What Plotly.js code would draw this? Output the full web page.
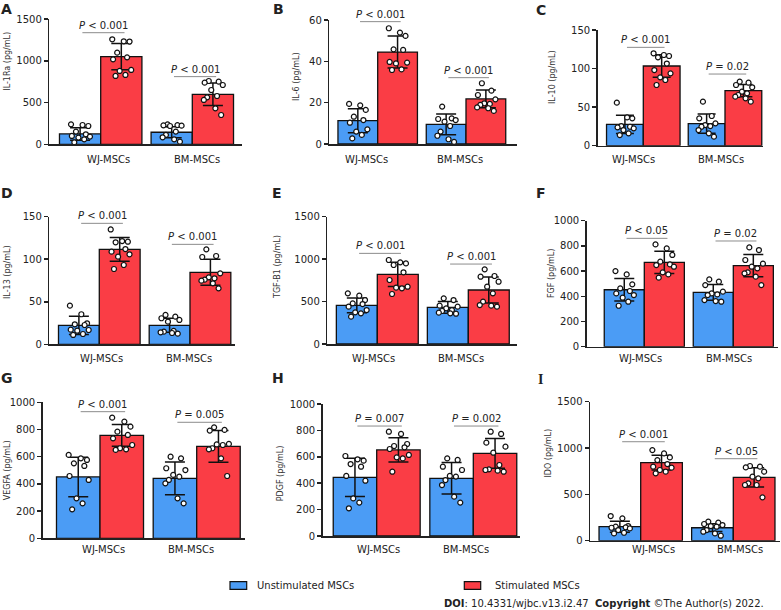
<!DOCTYPE html>
<html>
<head>
<meta charset="utf-8">
<script src="https://cdn.plot.ly/plotly-3.0.1.min.js"></script>
<style>html,body{margin:0;padding:0;background:#fff;}#chart{width:781px;height:610px;}</style>
</head>
<body>
<div id="chart"></div>
<script>
// ---------------- DATA ----------------
const groups = ['WJ-MSCs', 'BM-MSCs'];
const seriesNames = ['Unstimulated MSCs', 'Stimulated MSCs'];
const panelLetters = ['A','B','C','D','E','F','G','H','I'];
const yTitles = ['IL-1Ra (pg/mL)','IL-6 (pg/mL)','IL-10 (pg/mL)','IL-13 (pg/mL)','TGF-B1 (pg/mL)','FGF (pg/mL)','VEGFA (pg/mL)','PDGF (pg/mL)','IDO (pg/mL)'];

// A  IL-1Ra
const A_mean_u = [124, 144], A_mean_s = [1049, 598], A_sd_u = [75, 67], A_sd_s = [158, 135];
const A_u_WJ = [239, 231, 219, 152, 120, 100, 92, 80, 60, 24];
const A_s_WJ = [1257, 1233, 1230, 1097, 1041, 1017, 890, 878, 830, 818];
const A_u_BM = [239, 230, 227, 223, 219, 152, 112, 84, 60, 32];
const A_s_BM = [758, 750, 738, 710, 650, 578, 562, 531, 431, 351];
const A_p = ['< 0.001', '< 0.001'];
// B  IL-6
const B_mean_u = [11.3, 9.5], B_mean_s = [44.5, 21.8], B_sd_u = [5.8, 5.0], B_sd_s = [7.7, 4.3];
const B_u_WJ = [19.4, 18.7, 16.5, 13.2, 11.6, 10.3, 7.1, 6.0, 4.4, 2.7];
const B_s_WJ = [56, 53.9, 52.3, 45.8, 45.5, 39.7, 39.4, 39, 36.1, 35.8];
const B_u_BM = [18.1, 12.4, 12.1, 11.6, 10.8, 8.7, 6, 4, 2.3, 1];
const B_s_BM = [29.4, 25.8, 23.7, 21.6, 19.7, 19.4, 18.9, 17.7, 17.3, 16];
const B_p = ['< 0.001', '< 0.001'];
// C  IL-10
const C_mean_u = [27.7, 28.5], C_mean_s = [103.3, 71.3], C_sd_u = [11.9, 12.5], C_sd_s = [14.5, 8];
const C_u_WJ = [55.8, 36.7, 35.5, 25.5, 24.6, 23.8, 22.5, 20.3, 16, 13.8];
const C_s_WJ = [119.8, 117.6, 116.3, 114.6, 106.5, 98.1, 93.8, 88.6, 85.2, 78.7];
const C_u_BM = [57.1, 38.5, 35.5, 29, 26.8, 25.5, 24.6, 20.3, 16, 11.7];
const C_s_BM = [83, 81.7, 78.7, 75.7, 70, 67.9, 65.7, 63.6, 61.4, 57.1];
const C_p = ['< 0.001', '= 0.02'];
// D  IL-13
const D_mean_u = [22.3, 22.3], D_mean_s = [111.6, 84.6], D_sd_u = [10.8, 8.2], D_sd_s = [13.9, 15.3];
const D_u_WJ = [45.4, 35.3, 24.7, 23.5, 22.7, 17.2, 16.8, 16, 12.1, 11];
const D_s_WJ = [135, 121.4, 120.6, 119.9, 112, 108.9, 105.8, 103, 93.2, 88.5];
const D_u_BM = [34.5, 32.5, 30.6, 28.6, 26.6, 15.7, 14.9, 14.1, 13.3, 12.5];
const D_s_BM = [111.6, 103.8, 102.6, 83.4, 78.7, 77.6, 76, 74.8, 71.7, 65.8];
const D_p = ['< 0.001', '< 0.001'];
// E  TGF-B1
const E_mean_u = [455, 432], E_mean_s = [821, 636], E_sd_u = [88, 69], E_sd_s = [143, 153];
const E_u_WJ = [597, 569, 518, 479, 471, 440, 400, 373, 361, 322];
const E_s_WJ = [990, 962, 950, 931, 845, 754, 675, 664, 656, 589];
const E_u_BM = [538, 518, 452, 440, 420, 400, 389, 369, 361, 357];
const E_s_BM = [880, 801, 793, 734, 675, 597, 499, 459, 452, 440];
const E_p = ['< 0.001', '< 0.001'];
// F  FGF
const F_mean_u = [452, 431], F_mean_s = [669, 643], F_sd_u = [90, 62], F_sd_s = [89, 88];
const F_u_WJ = [600, 574, 495, 463, 442, 423, 410, 389, 357, 325];
const F_s_WJ = [812, 780, 728, 675, 653, 648, 635, 590, 574, 548];
const F_u_BM = [534, 516, 489, 437, 423, 415, 410, 370, 362, 357];
const F_s_BM = [788, 767, 688, 659, 635, 622, 590, 582, 556, 489];
const F_p = ['< 0.05', '= 0.02'];
// G  VEGFA
const G_mean_u = [451, 441], G_mean_s = [757, 676], G_sd_u = [145, 120], G_sd_s = [80, 117];
const G_u_WJ = [613, 588, 576, 551, 532, 458, 429, 294, 257, 213];
const G_s_WJ = [887, 858, 821, 784, 760, 735, 686, 662, 654, 650];
const G_u_BM = [600, 588, 515, 502, 466, 453, 429, 404, 294, 257];
const G_s_BM = [816, 797, 792, 694, 690, 686, 662, 654, 588, 458];
const G_p = ['< 0.001', '= 0.005'];
// H  PDGF
const H_mean_u = [444, 437], H_mean_s = [652, 626], H_sd_u = [145, 119], H_sd_s = [92, 113];
const H_u_WJ = [606, 581, 571, 545, 525, 455, 419, 285, 253, 210];
const H_s_WJ = [790, 773, 697, 682, 672, 659, 614, 596, 588, 487];
const H_u_BM = [588, 576, 525, 500, 455, 450, 424, 386, 298, 253];
const H_s_BM = [790, 773, 707, 677, 631, 538, 505, 500, 495, 487];
const H_p = ['= 0.007', '= 0.002'];
// I  IDO
const I_mean_u = [151, 140], I_mean_s = [842, 683], I_sd_u = [60, 42], I_sd_s = [80, 103];
const I_u_WJ = [266, 241, 158, 151, 144, 140, 133, 115, 86, 79];
const I_s_WJ = [978, 942, 899, 870, 827, 799, 788, 763, 745, 727];
const I_u_BM = [205, 194, 180, 169, 158, 151, 115, 97, 79, 54];
const I_s_BM = [806, 799, 791, 745, 691, 673, 619, 601, 601, 468];
const I_p = ['< 0.001', '< 0.05'];

// ---------------- GEOMETRY / STYLE ----------------
const W = 781, H = 610;
const BLUE = '#4b9cf5', RED = '#fa3d45', INK = '#222222', EDGE = '#111111';
const FONT = 'DejaVu Sans, Verdana, sans-serif';
// pixel geometry of each panel: axis left L, axis right R, group centres c0/c1, top & zero y, label row y
const geo = [
  {L:49.3, R:242,   c0:100.7, c1:192.3, top:19,    zero:144.3, ymax:1500, dtick:500, labs:[108.8,197],  labY:159, yt:[7.7,61],    let:[6,9],   br:[1336,810]},
  {L:329.3,R:516.7, c0:377.7, c1:466,   top:20,    zero:144,   ymax:60,   dtick:20,  labs:[366,459.7],  labY:159, yt:[297,77],    let:[278,9], br:[59.2,32.1]},
  {L:597.7,R:763,   c0:643.3, c1:725,   top:30,    zero:145.7, ymax:150,  dtick:50,  labs:[633.3,720.7],labY:159, yt:[553,77],    let:[541,10],br:[127.5,92.9]},
  {L:49.3, R:235,   c0:99.3,  c1:190,   top:216.7, zero:344.3, ymax:150,  dtick:50,  labs:[101.7,189.3],labY:358, yt:[7.3,271.7], let:[7,193], br:[142.2,117.5]},
  {L:327.3,R:516.7, c0:377.3, c1:468.3, top:216.7, zero:344,   ymax:1500, dtick:500, labs:[373,460.7],  labY:358, yt:[277.3,266.7],let:[277,193],br:[1068,942]},
  {L:586.7,R:778,   c0:644.3, c1:733.3, top:220.7, zero:346.7, ymax:1000, dtick:200, labs:[640,728.7],  labY:358, yt:[551.7,273.3],let:[541,193],br:[860,839]},
  {L:42.7, R:245,   c0:100,   c1:196.7, top:402.3, zero:538.3, ymax:1000, dtick:200, labs:[103.3,190.7],labY:549, yt:[7.3,470],   let:[7,378], br:[931,853]},
  {L:322.7,R:520,   c0:376.7, c1:473.3, top:404,   zero:536,   ymax:1000, dtick:200, labs:[378,465.7],  labY:549, yt:[280,473.3], let:[278,378],br:[833,833]},
  {L:590,  R:780,   c0:640.7, c1:733.3, top:401.7, zero:540.7, ymax:1500, dtick:500, labs:[653.3,739.7],labY:549, yt:[548.3,453.3],let:[540,379],br:[1068,885]}
];
const jitter = [-0.22, 0.06, 0.2, -0.1, 0.14, -0.2, 0.24, -0.04, 0.1, -0.14];

const panelData = [
  [A_mean_u, A_mean_s, A_sd_u, A_sd_s, A_u_WJ, A_u_BM, A_s_WJ, A_s_BM, A_p],
  [B_mean_u, B_mean_s, B_sd_u, B_sd_s, B_u_WJ, B_u_BM, B_s_WJ, B_s_BM, B_p],
  [C_mean_u, C_mean_s, C_sd_u, C_sd_s, C_u_WJ, C_u_BM, C_s_WJ, C_s_BM, C_p],
  [D_mean_u, D_mean_s, D_sd_u, D_sd_s, D_u_WJ, D_u_BM, D_s_WJ, D_s_BM, D_p],
  [E_mean_u, E_mean_s, E_sd_u, E_sd_s, E_u_WJ, E_u_BM, E_s_WJ, E_s_BM, E_p],
  [F_mean_u, F_mean_s, F_sd_u, F_sd_s, F_u_WJ, F_u_BM, F_s_WJ, F_s_BM, F_p],
  [G_mean_u, G_mean_s, G_sd_u, G_sd_s, G_u_WJ, G_u_BM, G_s_WJ, G_s_BM, G_p],
  [H_mean_u, H_mean_s, H_sd_u, H_sd_s, H_u_WJ, H_u_BM, H_s_WJ, H_s_BM, H_p],
  [I_mean_u, I_mean_s, I_sd_u, I_sd_s, I_u_WJ, I_u_BM, I_s_WJ, I_s_BM, I_p]
];

const traces = [];
const annotations = [];
const shapes = [];
const layout = {
  width: W, height: H, margin: {l:0, r:0, t:0, b:0},
  paper_bgcolor: '#fff', plot_bgcolor: 'rgba(0,0,0,0)',
  showlegend: false, barmode: 'overlay',
  font: {family: FONT, size: 10, color: INK}
};
const BW = 0.45;

panelData.forEach((d, i) => {
  const [mu, ms, su, ss, uWJ, uBM, sWJ, sBM, pv] = d;
  const g = geo[i];
  const ax = i === 0 ? '' : String(i + 1);
  const xr = 'x' + ax, yr = 'y' + ax;
  const u = g.c1 - g.c0;
  const cap = Math.round(0.24 * BW * u);
  layout['xaxis' + ax] = {
    domain: [g.L / W, g.R / W], range: [(g.L - g.c0) / u, (g.R - g.c0) / u],
    anchor: yr, showline: true, linecolor: INK, linewidth: 1.5,
    showticklabels: false, ticks: '', showgrid: false, zeroline: false, fixedrange: true
  };
  layout['yaxis' + ax] = {
    domain: [1 - g.zero / H, 1 - g.top / H], range: [0, g.ymax], tick0: 0, dtick: g.dtick,
    anchor: xr, showline: true, linecolor: INK, linewidth: 1.5,
    ticks: 'outside', ticklen: 4, tickwidth: 1.5, tickcolor: INK,
    tickfont: {family: FONT, size: 10, color: INK},
    showgrid: false, zeroline: false, fixedrange: true
  };
  // bars
  [[mu, su, BLUE, -BW], [ms, ss, RED, 0]].forEach(([m, s, col, off], k) => {
    traces.push({
      type: 'bar', x: [0, 1], y: m, offset: off, width: BW, name: seriesNames[k],
      xaxis: xr, yaxis: yr, showlegend: false, hoverinfo: 'skip',
      marker: {color: col, line: {color: EDGE, width: 1.3}},
      error_y: {type: 'data', array: s, visible: true, color: EDGE, thickness: 1.5, width: cap}
    });
  });
  // individual points
  [[uWJ, uBM, -BW / 2], [sWJ, sBM, BW / 2]].forEach(([a, b, c]) => {
    const xs = a.map((v, k) => 0 + c + jitter[k] * BW).concat(b.map((v, k) => 1 + c + jitter[(k + 3) % 10] * BW));
    traces.push({
      type: 'scatter', mode: 'markers', x: xs, y: a.concat(b), xaxis: xr, yaxis: yr,
      showlegend: false, hoverinfo: 'skip', cliponaxis: false,
      marker: {size: 5, color: '#ffffff', line: {color: EDGE, width: 1.2}}
    });
  });
  // brackets and p values
  [0, 1].forEach(k => {
    shapes.push({type: 'line', xref: xr, yref: yr, x0: k - 0.2, x1: k + 0.26, y0: g.br[k], y1: g.br[k],
      line: {color: '#8c8c8c', width: 1}});
    annotations.push({xref: xr, yref: yr, x: k + 0.03, y: g.br[k], yanchor: 'bottom', xanchor: 'center',
      showarrow: false, text: '<i>P</i> ' + pv[k], font: {family: FONT, size: 10, color: INK}});
    annotations.push({xref: 'paper', yref: 'paper', x: g.labs[k] / W, y: 1 - g.labY / H,
      xanchor: 'center', yanchor: 'middle', showarrow: false, text: groups[k],
      font: {family: FONT, size: 10, color: INK}});
  });
  // y title
  annotations.push({xref: 'paper', yref: 'paper', x: g.yt[0] / W, y: 1 - g.yt[1] / H, textangle: -90,
    xanchor: 'center', yanchor: 'middle', showarrow: false, text: yTitles[i],
    font: {family: FONT, size: 8, color: '#333'}});
  // panel letter
  annotations.push({xref: 'paper', yref: 'paper', x: g.let[0] / W, y: 1 - g.let[1] / H,
    xanchor: 'center', yanchor: 'middle', showarrow: false, text: '<b>' + panelLetters[i] + '</b>',
    font: {family: panelLetters[i] === 'I' ? 'Liberation Serif, serif' : FONT, size: 14, color: INK}});
});

// legend (swatches + labels)
const legendGeo = [{x0: 230, x1: 246.7, tx: 255}, {x0: 464.3, x1: 480.7, tx: 493.3}];
[BLUE, RED].forEach((col, k) => {
  const lg = legendGeo[k];
  shapes.push({type: 'rect', xref: 'paper', yref: 'paper', x0: lg.x0 / W, x1: lg.x1 / W,
    y0: 1 - 589.3 / H, y1: 1 - 581.7 / H, fillcolor: col, line: {color: EDGE, width: 1.2}});
  annotations.push({xref: 'paper', yref: 'paper', x: lg.tx / W, y: 1 - 585.5 / H, xanchor: 'left',
    yanchor: 'middle', showarrow: false, text: seriesNames[k], font: {family: FONT, size: 10, color: INK}});
});
annotations.push({xref: 'paper', yref: 'paper', x: 441.7 / W, y: 1 - 603 / H, xanchor: 'left', yanchor: 'middle',
  showarrow: false, text: '<b>DOI</b>: 10.4331/wjbc.v13.i2.47  <b>Copyright</b> ©The Author(s) 2022.',
  font: {family: FONT, size: 10, color: INK}});

layout.annotations = annotations;
layout.shapes = shapes;

Plotly.newPlot('chart', traces, layout, {displayModeBar: false, staticPlot: true});
</script>
</body>
</html>
